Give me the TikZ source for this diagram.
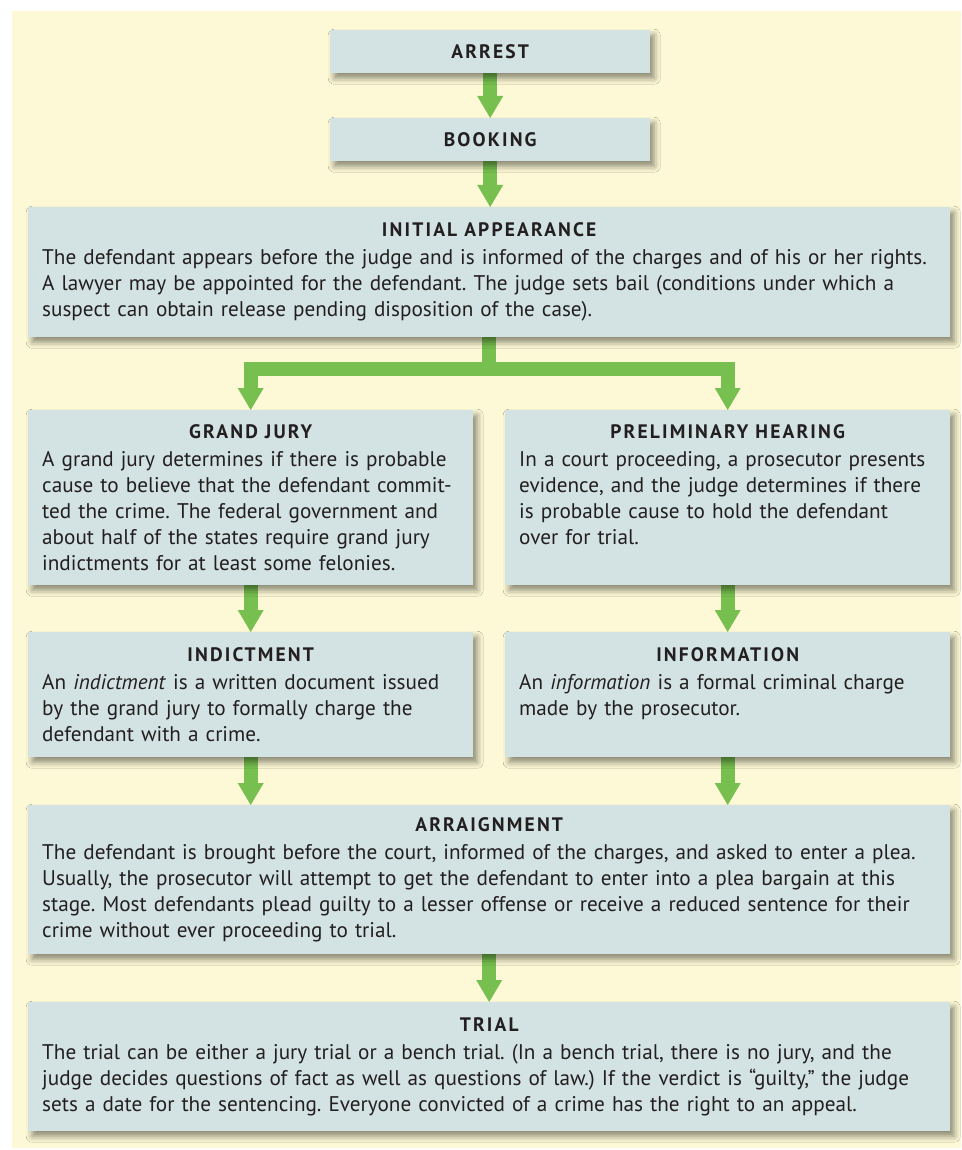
\documentclass[tikz,border=0pt]{standalone}
\usepackage{fontspec}
\setmainfont{PT Sans}
\newfontfamily\headfamily[LetterSpace=11]{PT Sans}
\usetikzlibrary{arrows.meta, shadows.blur, calc}

\definecolor{paper}{HTML}{FDF8D5}
\definecolor{boxfill}{HTML}{D3E2E2}
\definecolor{flowgreen}{HTML}{77C04F}
\definecolor{ink}{HTML}{231F20}

\pgfdeclarelayer{paperlayer}
\pgfdeclarelayer{flowlayer}
\pgfsetlayers{paperlayer,flowlayer,main}

\newcommand{\stagehead}[1]{\makebox[\linewidth][c]{\headfamily\bfseries\fontsize{19.5}{22}\selectfont #1}}

\begin{document}
\frenchspacing
\begin{tikzpicture}[x=1pt, y=-1pt,
    stage/.style = {rectangle, fill=boxfill, anchor=north west, inner xsep=14pt, inner ysep=0pt, align=left, text=ink,
        font=\fontsize{21.2}{26}\selectfont,
        blur shadow={shadow xshift=4pt, shadow yshift=-5pt, shadow blur radius=6pt, shadow opacity=45}},
    wide/.style = {stage, text width=894pt},
    half/.style = {stage, text width=417pt},
    flow/.style = {draw=flowgreen, line width=14pt, line join=miter, -{Triangle[width=26pt, length=22pt, line width=0pt]}}
]
    \useasboundingbox (0,0) rectangle (961,1150);

    \node[stage, text width=292pt, minimum height=43pt] (arrest) at (330,30) {\stagehead{ARREST}};
    \node[stage, text width=292pt, minimum height=43pt] (booking) at (330,118) {\stagehead{BOOKING}};

    \node[wide, minimum height=130pt] (initial) at (28,207) {\stagehead{INITIAL APPEARANCE}\\[2pt]
        The defendant appears before the judge and is informed of the charges and of his or her rights.\\
        A lawyer may be appointed for the defendant. The judge sets bail (conditions under which a\\
        suspect can obtain release pending disposition of the case).};

    \node[half, minimum height=175pt] (grand) at (28,410) {\stagehead{GRAND JURY}\\[2pt]
        A grand jury determines if there is probable\\
        cause to believe that the defendant commit-\\
        ted the crime. The federal government and\\
        about half of the states require grand jury\\
        indictments for at least some felonies.};
    \node[half, minimum height=175pt] (prelim) at (505,410) {\stagehead{PRELIMINARY HEARING}\\[2pt]
        In a court proceeding, a prosecutor presents\\
        evidence, and the judge determines if there\\
        is probable cause to hold the defendant\\
        over for trial.\\ \mbox{}};

    \node[half, minimum height=125pt] (indict) at (28,632) {\stagehead{INDICTMENT}\\[2pt]
        An \emph{indictment} is a written document issued\\
        by the grand jury to formally charge the\\
        defendant with a crime.};
    \node[half, minimum height=125pt] (info) at (505,632) {\stagehead{INFORMATION}\\[2pt]
        An \emph{information} is a formal criminal charge\\
        made by the prosecutor.\\ \mbox{}};

    \node[wide, minimum height=149pt] (arraign) at (28,805) {\stagehead{ARRAIGNMENT}\\[2pt]
        The defendant is brought before the court, informed of the charges, and asked to enter a plea.\\
        Usually, the prosecutor will attempt to get the defendant to enter into a plea bargain at this\\
        stage. Most defendants plead guilty to a lesser offense or receive a reduced sentence for their\\
        crime without ever proceeding to trial.};

    \node[wide, minimum height=129pt] (trial) at (28,1002) {\stagehead{TRIAL}\\[2pt]
        The trial can be either a jury trial or a bench trial. (In a bench trial, there is no jury, and the\\
        judge decides questions of fact as well as questions of law.) If the verdict is “guilty,” the judge\\
        sets a date for the sentencing. Everyone convicted of a crime has the right to an appeal.};

    \begin{pgfonlayer}{flowlayer}
        \path[flow] (arrest.south) -- (arrest.south |- booking.north);
        \path[flow] (booking.south) -- (booking.south |- initial.north);
        \coordinate (split) at ($(initial.south)+(0,32)$);
        \path[flow] (initial.south) -- (split) -| (grand.north);
        \path[flow] (split) -| (prelim.north);
        \path[flow] (grand) -- (indict);
        \path[flow] (prelim) -- (info);
        \path[flow] (indict.south) -- (indict.south |- arraign.north);
        \path[flow] (info.south) -- (info.south |- arraign.north);
        \path[flow] (arraign) -- (trial);
    \end{pgfonlayer}

    \begin{pgfonlayer}{paperlayer}
        \fill[paper] (12,11) rectangle (961,1148);
    \end{pgfonlayer}
\end{tikzpicture}
\end{document}
